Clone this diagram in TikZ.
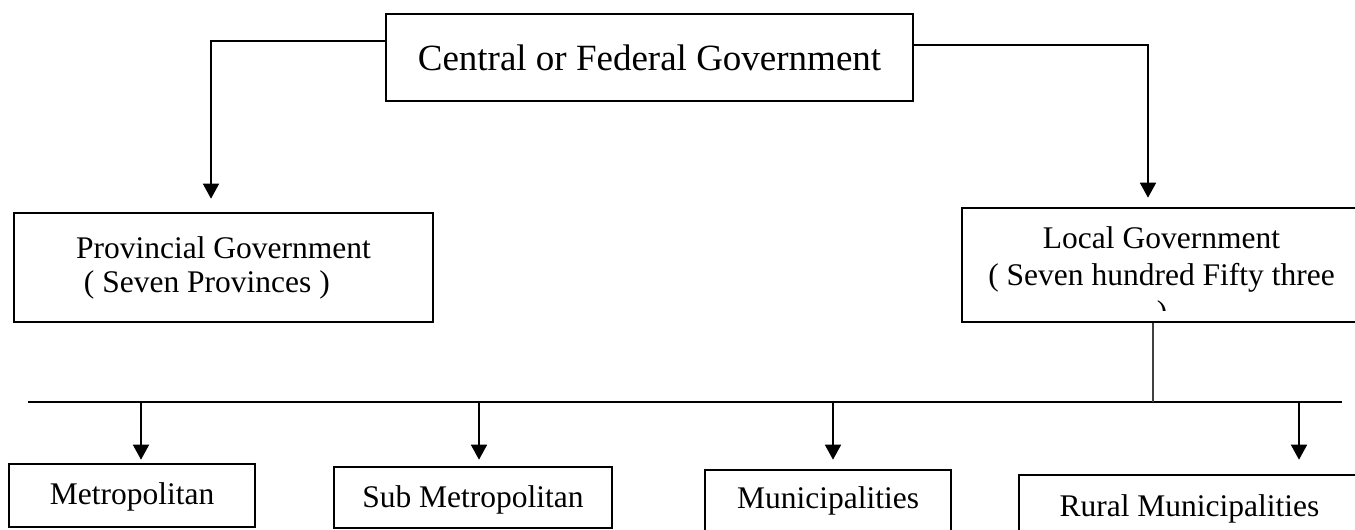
\documentclass[tikz,border=0pt]{standalone}
\usepackage{fontspec}
\setmainfont{Liberation Serif}
\usetikzlibrary{arrows.meta}
\newcommand{\fbig}{\fontsize{37}{44}\selectfont}
\newcommand{\fmid}{\fontsize{31.5}{34}\selectfont}
\newcommand{\fmidwide}{\fontsize{31.5}{37}\selectfont}
\begin{document}
\begin{tikzpicture}[x=1pt,y=-1pt,
  box/.style={draw, line width=2.6pt, rectangle, inner sep=0pt, font=\fmid},
  link/.style={line width=1.6pt},
  feed/.style={line width=1.2pt, draw=black!75},
  arr/.style={link, -{Triangle[width=16pt,length=15pt]}}]
\useasboundingbox (0,0) rectangle (1355,530);
\clip (0,0) rectangle (1355,530);

% top level
\node[box, minimum width=527pt, minimum height=87pt, font=\fbig,
      text height=25pt, text depth=0pt] (central) at (649.5,57.5)
      {Central or Federal Government};

% second level
\node[box, minimum width=419pt, minimum height=109pt, align=left] (prov)
      at (223.5,267.5)
      {Provincial Government\\\hspace*{0.25em}( Seven Provinces )};
\node[box, minimum width=399pt, minimum height=114pt, align=center,
      font=\fmidwide, text depth=18.7pt] (local) at (1161.5,265)
      {Local Government\\( Seven hundred Fifty three};
\begin{scope}
  \clip (962,208) rectangle (1361,310);
  \node[font=\fmid, anchor=base, inner sep=0pt] (close) at (1162,322) {)};
\end{scope}

% third level
\node[box, minimum width=246pt, minimum height=63pt,
      text height=24pt, text depth=7pt] (metro) at (132,495.5) {Metropolitan};
\node[box, minimum width=278pt, minimum height=61pt,
      text height=24pt, text depth=5pt] (submetro) at (473,497.5) {Sub Metropolitan};
\node[box, minimum width=246pt, minimum height=70pt,
      text height=24pt, text depth=18pt] (munic) at (828,505) {Municipalities};
\node[box, minimum width=341pt, minimum height=70pt,
      text height=24pt, text depth=12pt] (rural) at (1189.5,510) {Rural Municipalities};

% central to provinces and local level
\draw[arr, shorten >=13pt] ([yshift=16.5pt]central.west) -| ([xshift=-12.5pt]prov.north);
\draw[arr, shorten >=9pt] ([yshift=12.5pt]central.east) -| ([xshift=-13.5pt]local.north);

% distribution bar
\coordinate (busL) at (28,402);
\coordinate (busR) at (1342,402);
\draw[link] (busL) -- (busR);
\coordinate (lfoot) at ([xshift=-8.5pt]local.south);
\draw[feed] (lfoot) -- (lfoot |- busL);

% drops to the local units
\coordinate (mtop) at ([xshift=9pt]metro.north);
\coordinate (stop) at ([xshift=6pt]submetro.north);
\coordinate (utop) at ([xshift=5pt]munic.north);
\coordinate (rtop) at ([xshift=109.5pt]rural.north);
\draw[arr, shorten >=3pt] (mtop |- busL) -- (mtop);
\draw[arr, shorten >=6pt] (stop |- busL) -- (stop);
\draw[arr, shorten >=9pt] (utop |- busL) -- (utop);
\draw[arr, shorten >=14pt] (rtop |- busL) -- (rtop);
\end{tikzpicture}
\end{document}
